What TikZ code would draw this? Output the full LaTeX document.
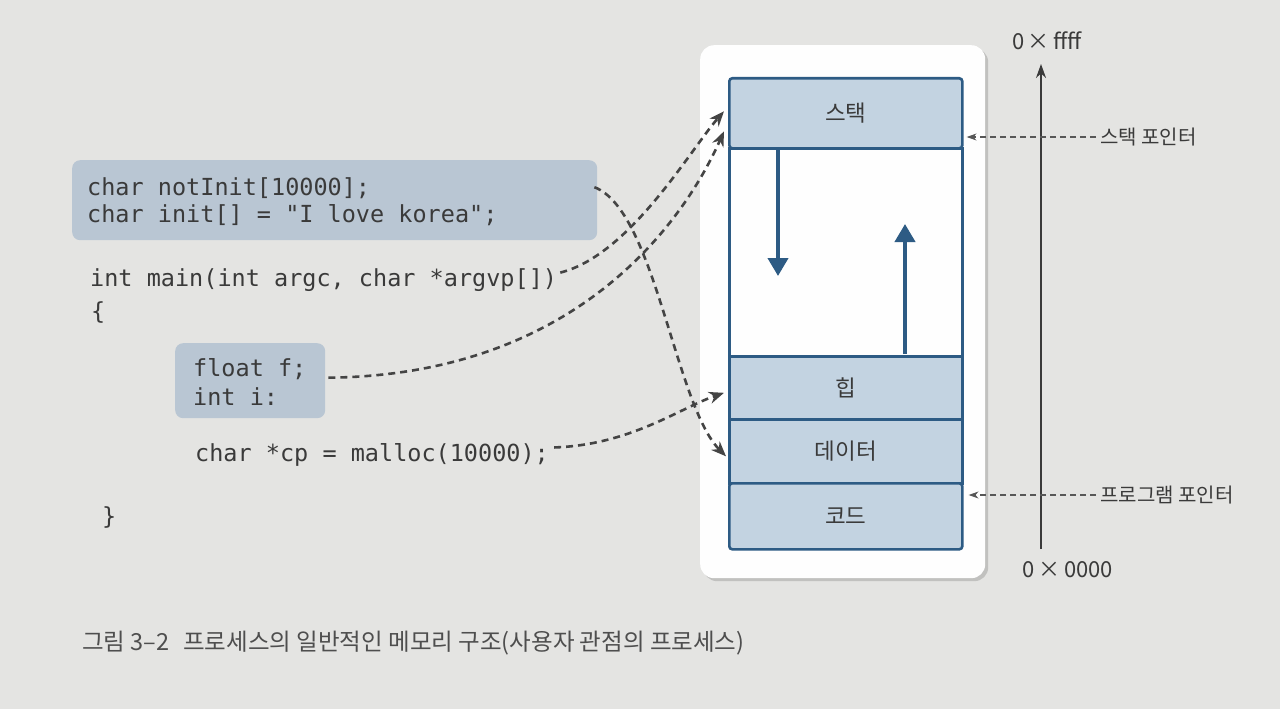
\documentclass[tikz,border=0pt]{standalone}
\usepackage{fontspec}
\setmainfont{Noto Sans CJK KR}
\setmonofont{DejaVu Sans Mono}
\usetikzlibrary{arrows.meta,shadows}
\definecolor{paper}{HTML}{E4E4E2}
\definecolor{codefill}{HTML}{B9C6D3}
\definecolor{memfill}{HTML}{C3D3E1}
\definecolor{memline}{HTML}{2D5B84}
\definecolor{txt}{HTML}{3A3A3A}
\definecolor{conncol}{HTML}{444444}
\tikzset{
  codebox/.style={fill=codefill, rounded corners=8pt, draw=none, inner sep=0pt, anchor=north west},
  code/.style={font=\ttfamily\fontsize{23.5}{26}\selectfont, text=txt, anchor=base west, inner sep=0pt},
  seg/.style={draw=memline, line width=2.6pt, fill=memfill, minimum width=233pt, inner sep=0pt, anchor=north west},
  seglabel/.style={font=\fontsize{22.5}{24}\selectfont, text=txt},
  conn/.style={draw=conncol, line width=2.6pt, dash pattern=on 7pt off 5pt, -{Stealth[length=15pt,width=12pt]}},
  ptr/.style={draw=conncol!90, line width=1.1pt, dash pattern=on 6pt off 4pt, -{Stealth[length=10pt,width=7pt]}},
  growth/.style={draw=memline, line width=4pt, -{Triangle[length=18pt,width=20pt]}},
  side/.style={font=\fontsize{20}{22}\selectfont, text=txt, inner sep=0pt},
  addr/.style={font=\fontsize{22}{24}\selectfont, text=txt, inner sep=0pt},
}
\begin{document}
\begin{tikzpicture}[x=1pt,y=-1pt]
\fill[paper] (0,0) rectangle (1280,709);
\useasboundingbox (0,0) rectangle (1280,709);

% code boxes
\node[codebox, minimum width=525pt, minimum height=80pt] (box1) at (72,160) {};
\node[code] (l1) at (87,195) {char notInit[10000];};
\node[code] (l2) at (87,222) {char init[] = "I love korea";};
\node[code] (l3) at (90,286) {int main(int argc, char *argvp[])};
\node[code] (l4) at (91,319) {\{};
\node[codebox, minimum width=150pt, minimum height=75pt] (box2) at (175,343) {};
\node[code] (l5) at (193,376) {float f;};
\node[code] (l6) at (193,405) {int i:};
\node[code] (l7) at (195,461) {char *cp = malloc(10000);};
\node[code] (l8) at (102,524) {\}};

% outer process box
\node[fill=white!96!paper, rounded corners=14pt, minimum width=285pt, minimum height=533pt,
      anchor=north west, inner sep=0pt, drop shadow={shadow xshift=3pt, shadow yshift=-3pt, opacity=0.35}] (proc) at (700,45) {};

% memory segments
\node[seg, minimum height=70pt, rounded corners=3pt] (stack) at (728,77) {};
\node[seg, minimum height=208pt, fill=white!96!paper] (free) at (728,147) {};
\node[seg, minimum height=63pt] (heap) at (728,355) {};
\node[seg, minimum height=64pt] (data) at (728,418) {};
\node[seg, minimum height=66pt, rounded corners=3pt] (codeseg) at (728,482) {};
\node[seglabel] at (stack.center) {스택};
\node[seglabel] at (heap.center) {힙};
\node[seglabel] at (data.center) {데이터};
\node[seglabel] at (codeseg.center) {코드};

% growth arrows
\coordinate (sd0) at (778,148);
\coordinate (sd1) at (778,276);
\draw[growth] (sd0) -- (sd1);
\coordinate (hu0) at (905,354);
\coordinate (hu1) at (905,224);
\draw[growth] (hu0) -- (hu1);

% address axis
\node[addr] (top) at (1047,41) {0\,×\,ffff};
\node[addr] (bot) at (1068,570) {0\,×\,0000};
\coordinate (ax0) at (1041,549);
\coordinate (ax1) at (1041,64);
\draw[line width=1.6pt, draw=txt, -{Stealth[length=14pt,width=10pt]}] (ax0) -- (ax1);

% pointers
\node[side, anchor=west] (sp) at (1100,137) {스택 포인터};
\node[side, anchor=west] (pp) at (1100,495) {프로그램 포인터};
\draw[ptr] ([xshift=-4pt]sp.west) -- ([xshift=3pt]stack.east |- sp.west);
\draw[ptr] ([xshift=-4pt]pp.west) -- ([xshift=5pt]codeseg.east |- pp.west);

% connectors
\draw[conn] (l3.east) ++(3,-7) .. controls (630,255) and (690,150) .. ([xshift=-4pt,yshift=2pt]stack.west);
\draw[conn] (box2.east) ++(3,-3) .. controls (570,375) and (680,230) .. ([xshift=-4pt,yshift=-18pt]stack.west);
\draw[conn] (l7.east) ++(5,-7) .. controls (630,445) and (680,408) .. ([xshift=-4pt,yshift=-5pt]heap.west);
\draw[conn] ([xshift=-3pt,yshift=13pt]box1.east) .. controls (655,210) and (675,405) .. ([xshift=-2pt,yshift=-5pt]data.west);

% caption
\node[anchor=west, inner sep=0pt, font=\fontsize{23.5}{26}\selectfont, text=txt!90] (cap) at (82,643)
  {그림 3–2\hspace{14pt}프로세스의 일반적인 메모리 구조(사용자 관점의 프로세스)};
\end{tikzpicture}
\end{document}
